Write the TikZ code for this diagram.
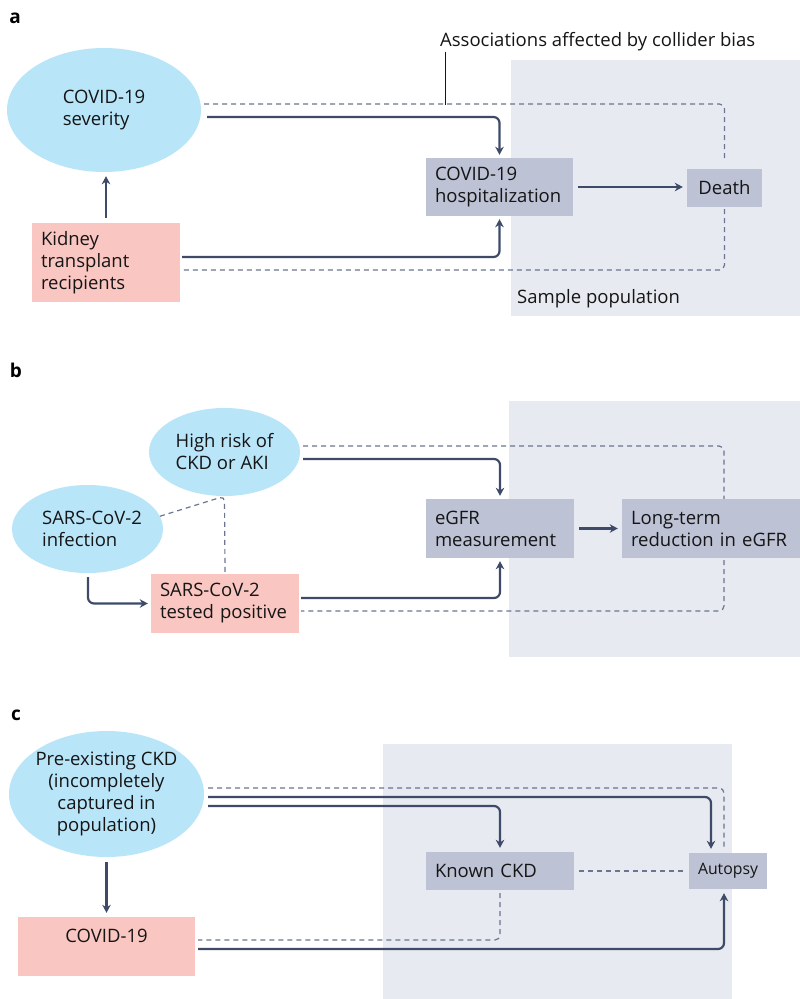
\documentclass[tikz,border=0pt]{standalone}
\usepackage{fontspec}
\setmainfont{Open Sans}
\usetikzlibrary{arrows.meta,calc,shapes.geometric}
\definecolor{ellblue}{HTML}{B9E5F9}
\definecolor{pinkc}{HTML}{F9C6C1}
\definecolor{grayc}{HTML}{BDC2D5}
\definecolor{bgc}{HTML}{E7EAF0}
\definecolor{linec}{HTML}{3E4A68}
\definecolor{dashc}{HTML}{6B7591}
\definecolor{txtc}{HTML}{151515}
\begin{document}
\begin{tikzpicture}[x=1pt,y=-1pt,
  font=\fontsize{18.5}{22}\selectfont, text=txtc,
  ell/.style={ellipse, fill=ellblue, inner sep=0pt},
  etext/.style={inner sep=0pt, align=left},
  pbox/.style={rectangle, fill=pinkc, inner xsep=9pt, inner ysep=0pt, align=left},
  gbox/.style={rectangle, fill=grayc, inner xsep=9pt, inner ysep=0pt, align=left},
  bgarea/.style={fill=bgc, draw=none},
  solidarr/.style={draw=linec, line width=2.2pt, rounded corners=6pt,
     -{Stealth[length=8pt,width=8.5pt,inset=2.5pt]}},
  dashln/.style={draw=dashc, line width=1.2pt, dash pattern=on 5pt off 4pt, rounded corners=5pt},
  panel/.style={font=\fontsize{19}{20}\selectfont\bfseries, text=black},
  plain/.style={inner sep=0pt}
]
\useasboundingbox (0,0) rectangle (800,999);
\fill[white] (0,0) rectangle (800,999);

% ---------------- panel a ----------------
\fill[bgarea] (511,60) rectangle (800,316);
\node[panel] (la) at (15,18) {a};
\node[plain, anchor=west] (assoc) at (440,42) {Associations affected by collider bias};
\node[plain, anchor=west] (samp) at (517,299) {Sample population};

\node[ell, minimum width=194pt, minimum height=124pt] (sev) at (104,110) {};
\node[etext] (sevt) at (sev) {COVID-19\\severity};
\node[gbox, text width=129pt, minimum height=58pt] (hosp) at (499.5,187) {COVID-19\\hospitalization};
\node[gbox, minimum width=75pt, minimum height=38pt, inner xsep=0pt, align=center] (death) at (724.5,188) {Death};
\node[pbox, text width=130pt, minimum height=79pt] (kid) at (106,262.5) {Kidney\\transplant\\recipients};

\coordinate (lead) at (445,104.5);
\draw[draw=txtc, line width=0.9pt] (lead |- assoc.south) -- (lead);

\draw[dashln] ($(sev.east)+(3,-6)$) -| ($(death.north)+(0,-9)$);
\draw[dashln] ($(death.south)+(0,2)$) |- ($(kid.east)+(2,7.5)$);
\draw[solidarr, shorten >=3pt] ($(sev.east)+(6,7)$) -| (hosp.north);
\draw[solidarr, shorten >=3pt] ($(kid.east)+(2,-5.5)$) -| (hosp.south);
\draw[solidarr, shorten <=5pt, shorten >=4pt] (kid.north) -- (kid.north |- sev.south);
\draw[solidarr, shorten <=5pt, shorten >=4pt] (hosp.east) -- (hosp.east -| death.west);

% ---------------- panel b ----------------
\fill[bgarea] (509,401) rectangle (800,657);
\node[panel] (lb) at (16,370) {b};

\node[ell, minimum width=151pt, minimum height=88pt] (risk) at (224.5,452) {};
\node[etext] (riskt) at (risk) {High risk of\\CKD or AKI};
\node[ell, minimum width=151pt, minimum height=88pt] (inf) at (87.5,529) {};
\node[etext] (inft) at (92,529) {SARS-CoV-2\\infection};
\node[pbox, text width=130pt, minimum height=59pt] (tested) at (225,603.5) {SARS-CoV-2\\tested positive};
\node[gbox, text width=130pt, minimum height=59pt] (egfr) at (500,528.5) {eGFR\\measurement};
\node[gbox, text width=160pt, minimum height=59pt] (lt) at (711,528.5) {Long-term\\reduction in eGFR};

\draw[dashln] (inf.10) -- (risk.south) -- ($(tested.north)+(0,-2)$);
\draw[dashln] ($(risk.east)+(3,-6)$) -| ($(lt.north)+(13,0)$);
\draw[dashln] ($(lt.south)+(13,2)$) |- ($(tested.east)+(2,7.5)$);
\draw[solidarr, shorten >=3pt] ($(risk.east)+(3,7)$) -| (egfr.north);
\draw[solidarr, shorten >=3pt] ($(tested.east)+(2,-5.5)$) -| (egfr.south);
\draw[solidarr, shorten >=3pt] ($(inf.south)+(0.5,4)$) |- (tested.west);
\draw[solidarr, shorten <=5pt, shorten >=4pt] (egfr.east) -- (egfr.east -| lt.west);

% ---------------- panel c ----------------
\fill[bgarea] (383,744) rectangle (732,999);
\node[panel] (lc) at (16,715) {c};

\node[ell, minimum width=195pt, minimum height=126pt] (pre) at (106.5,794) {};
\node[etext, align=center] (pret) at (pre) {Pre-existing CKD\\(incompletely\\captured in\\population)};
\node[pbox, minimum width=177pt, minimum height=59pt, inner xsep=0pt, align=center] (cov) at (106.5,946.5)
  {COVID-19\\\phantom{X}};
\node[gbox, text width=130pt, minimum height=38pt] (known) at (500,871) {Known CKD};
\node[gbox, minimum width=78pt, minimum height=36pt, inner xsep=0pt, align=center,
  font=\fontsize{15.8}{18}\selectfont] (aut) at (728,871) {Autopsy};

\draw[dashln] ($(pre.east)+(4,-6)$) -| ($(aut.north)+(-4,-5)$);
\draw[solidarr, shorten >=4pt] ($(pre.east)+(4,3)$) -| ($(aut.north)+(-17,0)$);
\draw[solidarr, shorten >=4pt] ($(pre.east)+(4,12)$) -| (known.north);
\draw[solidarr, shorten <=5pt, shorten >=4pt] (pre.south) -- (cov.north);
\draw[dashln] ($(known.east)+(5,0)$) -- ($(aut.west)+(-3,0)$);
\draw[dashln] ($(known.south)+(0,3)$) |- ($(cov.east)+(3,-6.5)$);
\draw[solidarr, shorten >=4pt] ($(cov.east)+(3,2.5)$) -| ($(aut.south)+(-4,0)$);
\end{tikzpicture}
\end{document}
